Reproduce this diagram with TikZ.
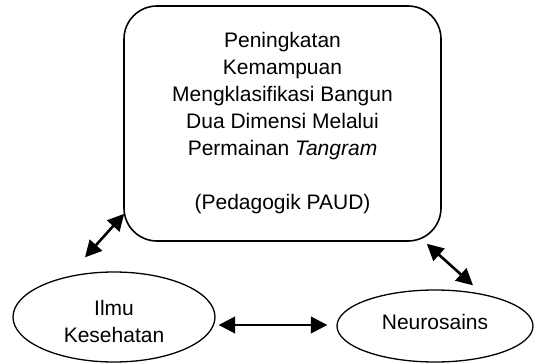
\documentclass[tikz,border=0pt]{standalone}
\usepackage{fontspec}
\setmainfont{Liberation Sans}
\usetikzlibrary{arrows.meta,shapes.geometric}
\begin{document}
\begin{tikzpicture}[x=1pt,y=-1pt,
  txt/.style={font=\fontsize{21}{27}\selectfont, align=center, inner sep=0pt},
  mainbox/.style={draw, line width=1.6pt, rounded corners=33pt, minimum width=317pt, minimum height=235pt, inner sep=0pt},
  oval/.style={draw, ellipse, line width=1.3pt, inner sep=0pt},
  arr/.style={line width=2.6pt, {Triangle[length=16.5pt,width=16.5pt]}-{Triangle[length=16.5pt,width=16.5pt]}}]
\useasboundingbox (0,0) rectangle (534,363);
\node[mainbox, txt] (box) at (282.5,123.5)
  {Peningkatan\\Kemampuan\\Mengklasifikasi Bangun\\Dua Dimensi Melalui\\Permainan \textit{Tangram}\\[27pt](Pedagogik PAUD)};
\node[oval, minimum width=202pt, minimum height=90pt] (ilmu) at (114,317) {};
\node[txt] (ilmutxt) at ([yshift=-4pt]ilmu.center) {Ilmu\\Kesehatan};
\node[oval, minimum width=196pt, minimum height=72pt] (neuro) at (435,326) {};
\node[txt] (neurotxt) at ([yshift=4.5pt]neuro.center) {Neurosains};
\draw[arr] ([shift={(3,8)}]ilmu.east) -- ([shift={(-9,-1)}]neuro.west);
\draw[arr] ([shift={(-29,-14)}]ilmu.north) -- ([shift={(1,-28)}]box.south west);
\draw[arr] ([shift={(-15,2)}]box.south east) -- ([shift={(38,-4)}]neuro.north);
\end{tikzpicture}
\end{document}
